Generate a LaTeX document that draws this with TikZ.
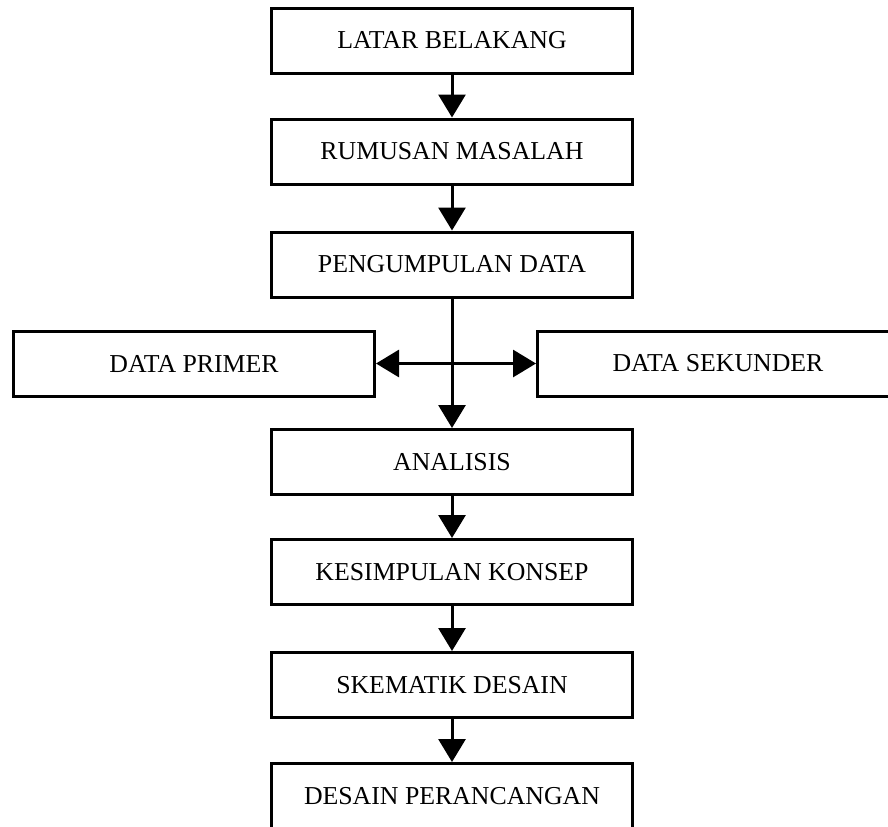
\documentclass[tikz,border=0pt]{standalone}
\usepackage{fontspec}
\setmainfont{Liberation Serif}
\usetikzlibrary{arrows.meta}
\begin{document}
\begin{tikzpicture}[x=0.5pt,y=-0.5pt,
    box/.style={draw, line width=1.5pt, minimum width=180.5pt, minimum height=32.5pt,
      inner sep=0pt, font=\fontsize{12.9}{15}\selectfont},
    link/.style={line width=1.5pt, -{Triangle[width=13.5pt,length=11.5pt]}}]
    \useasboundingbox (0,0) rectangle (888,826);
    \clip (0,0) rectangle (888,826);
    \node[box] (latar) at (452,40.5) {LATAR BELAKANG};
    \node[box] (rumusan) at (452,151.5) {RUMUSAN MASALAH};
    \node[box] (pengumpulan) at (452,264.5) {PENGUMPULAN DATA};
    \node[box] (primer) at (194,363.5) {DATA PRIMER};
    \node[box] (sekunder) at (718,363.5) {DATA SEKUNDER};
    \node[box] (analisis) at (452,462) {ANALISIS};
    \node[box] (kesimpulan) at (452,572) {KESIMPULAN KONSEP};
    \node[box] (skematik) at (452,685) {SKEMATIK DESAIN};
    \node[box] (desain) at (452,796) {DESAIN PERANCANGAN};% runs off the bottom
    \draw[link] (latar) -- (rumusan);
    \draw[link] (rumusan) -- (pengumpulan);
    \draw[link] (pengumpulan) -- (analisis);% passes the data row
    \draw[link, {Triangle[width=13.5pt,length=11.5pt]}-{Triangle[width=13.5pt,length=11.5pt]}] (primer) -- (sekunder);% both sides
    \draw[link] (analisis) -- (kesimpulan);
    \draw[link] (kesimpulan) -- (skematik);
    \draw[link] (skematik) -- (desain);
  \end{tikzpicture}
\end{document}
